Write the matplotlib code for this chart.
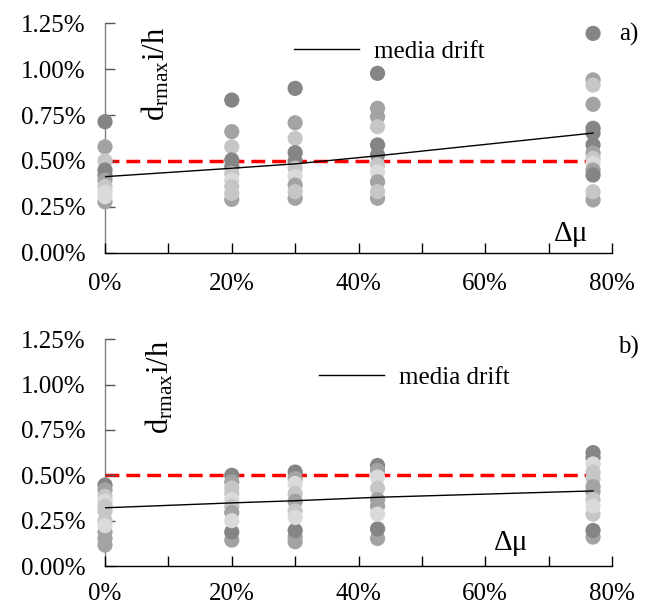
import matplotlib
matplotlib.use("Agg")
import matplotlib.pyplot as plt
from matplotlib.ticker import FuncFormatter, MultipleLocator

plt.rcParams['font.family'] = ['Liberation Serif', 'DejaVu Serif']
plt.rcParams['mathtext.fontset'] = 'custom'
plt.rcParams['mathtext.rm'] = 'Liberation Serif'
plt.rcParams['mathtext.it'] = 'Liberation Serif:italic'

# ---- data (percent) ----
delta_mu = [0, 20, 30, 43, 77]

D, M, L, V = '#858585', '#a3a3a3', '#c6c6c6', '#dadada'

top_drift = [
    [0.714, 0.577, 0.50, 0.45, 0.42, 0.395, 0.277, 0.36, 0.33, 0.305],
    [0.832, 0.66, 0.577, 0.505, 0.47, 0.29, 0.43, 0.395, 0.36, 0.323],
    [0.896, 0.708, 0.623, 0.545, 0.50, 0.296, 0.46, 0.414, 0.368, 0.332],
    [0.978, 0.787, 0.741, 0.687, 0.587, 0.532, 0.296, 0.478, 0.441, 0.386, 0.332],
    [1.196, 0.942, 0.914, 0.809, 0.678, 0.652, 0.587, 0.543, 0.514, 0.487, 0.45, 0.423, 0.287, 0.332],
]
top_shade = [
    [D, M, L, D, D, M, M, L, V, V],
    [D, M, L, D, D, M, L, V, L, L],
    [D, M, L, D, D, M, L, V, M, L],
    [D, M, M, L, D, D, M, L, V, M, L],
    [D, M, L, M, D, D, D, M, L, V, M, D, M, L],
]
top_mean = [0.414, 0.46, 0.484, 0.528, 0.652]

bot_drift = [
    [0.446, 0.42, 0.384, 0.357, 0.33, 0.304, 0.116, 0.152, 0.1875, 0.25, 0.223],
    [0.50, 0.464, 0.43, 0.40, 0.366, 0.33, 0.143, 0.1875, 0.295, 0.25],
    [0.518, 0.482, 0.455, 0.40, 0.357, 0.134, 0.16, 0.196, 0.304, 0.268],
    [0.554, 0.527, 0.49, 0.429, 0.366, 0.33, 0.152, 0.205, 0.286],
    [0.625, 0.598, 0.5625, 0.518, 0.482, 0.4375, 0.41, 0.366, 0.16, 0.196, 0.286, 0.33],
]
bot_shade = [
    [D, M, L, V, L, L, M, M, M, L, V],
    [D, M, L, L, V, L, M, D, M, V],
    [D, M, V, L, M, M, M, D, L, V],
    [D, M, V, L, M, M, M, D, V],
    [D, D, V, L, L, M, M, L, M, D, L, V],
]
bot_mean = [0.321, 0.348, 0.36, 0.379, 0.414]

limit_x = [0, 77]
limit_y = [0.5, 0.5]

fig = plt.figure(figsize=(6.47, 6.10), dpi=100)
ax_top = fig.add_axes([0.1623, 0.586, 0.7837, 0.3755])
ax_bot = fig.add_axes([0.1623, 0.072, 0.7837, 0.3720])


def draw(ax, drift, shade, mean, leg_pos, ylab_pos, dmu_pos, xpad):
    ax.plot(limit_x, limit_y, color='#ff0000', lw=2.5, ls=(0, (4, 2)), zorder=1)
    for xv, vals, cols in zip(delta_mu, drift, shade):
        ax.scatter([xv] * len(vals), vals, s=120, c=cols, edgecolors='none',
                   zorder=2, clip_on=False)
    ax.plot(delta_mu, mean, color='black', lw=1.0, zorder=3, label='media drift')
    ax.set_xlim(0, 80)
    ax.set_ylim(0, 1.25)
    ax.xaxis.set_major_locator(MultipleLocator(10))
    ax.yaxis.set_major_locator(MultipleLocator(0.25))
    ax.xaxis.set_major_formatter(FuncFormatter(lambda v, p: f'{v:.0f}%' if round(v) % 20 == 0 else ''))
    ax.yaxis.set_major_formatter(FuncFormatter(lambda v, p: f'{v:.2f}%'))
    ax.tick_params(axis='x', direction='in', length=7, width=1, labelsize=18, pad=xpad, color='black')
    ax.tick_params(axis='y', direction='in', length=7, width=1, labelsize=18, pad=14, color='#555555')
    ax.spines['top'].set_visible(False)
    ax.spines['right'].set_visible(False)
    ax.spines['left'].set_color('#808080')
    ax.spines['bottom'].set_color('black')
    ax.spines['left'].set_linewidth(1.0)
    ax.spines['bottom'].set_linewidth(1.0)
    ax.spines['left'].set_zorder(0.5)
    ax.set_facecolor('none')
    ax.legend(loc='center', bbox_to_anchor=leg_pos, frameon=False, fontsize=18,
              handlelength=2.6, handletextpad=0.6)
    ax.text(ylab_pos[0], ylab_pos[1], r'$\mathrm{d_{rmax}i/h}$', transform=ax.transAxes,
            rotation=90, ha='center', va='center', fontsize=22)
    ax.text(dmu_pos[0], dmu_pos[1], 'Δμ', transform=ax.transAxes,
            ha='center', va='center', fontsize=21)


draw(ax_top, top_drift, top_shade, top_mean, (0.56, 0.876), (0.10, 0.78), (0.92, 0.08), 15)
draw(ax_bot, bot_drift, bot_shade, bot_mean, (0.61, 0.83), (0.108, 0.79), (0.80, 0.10), 12)

fig.text(0.972, 0.943, 'a)', ha='center', va='center', fontsize=18)
fig.text(0.972, 0.43, 'b)', ha='center', va='center', fontsize=18)

fig.savefig('out.png', dpi=100)
